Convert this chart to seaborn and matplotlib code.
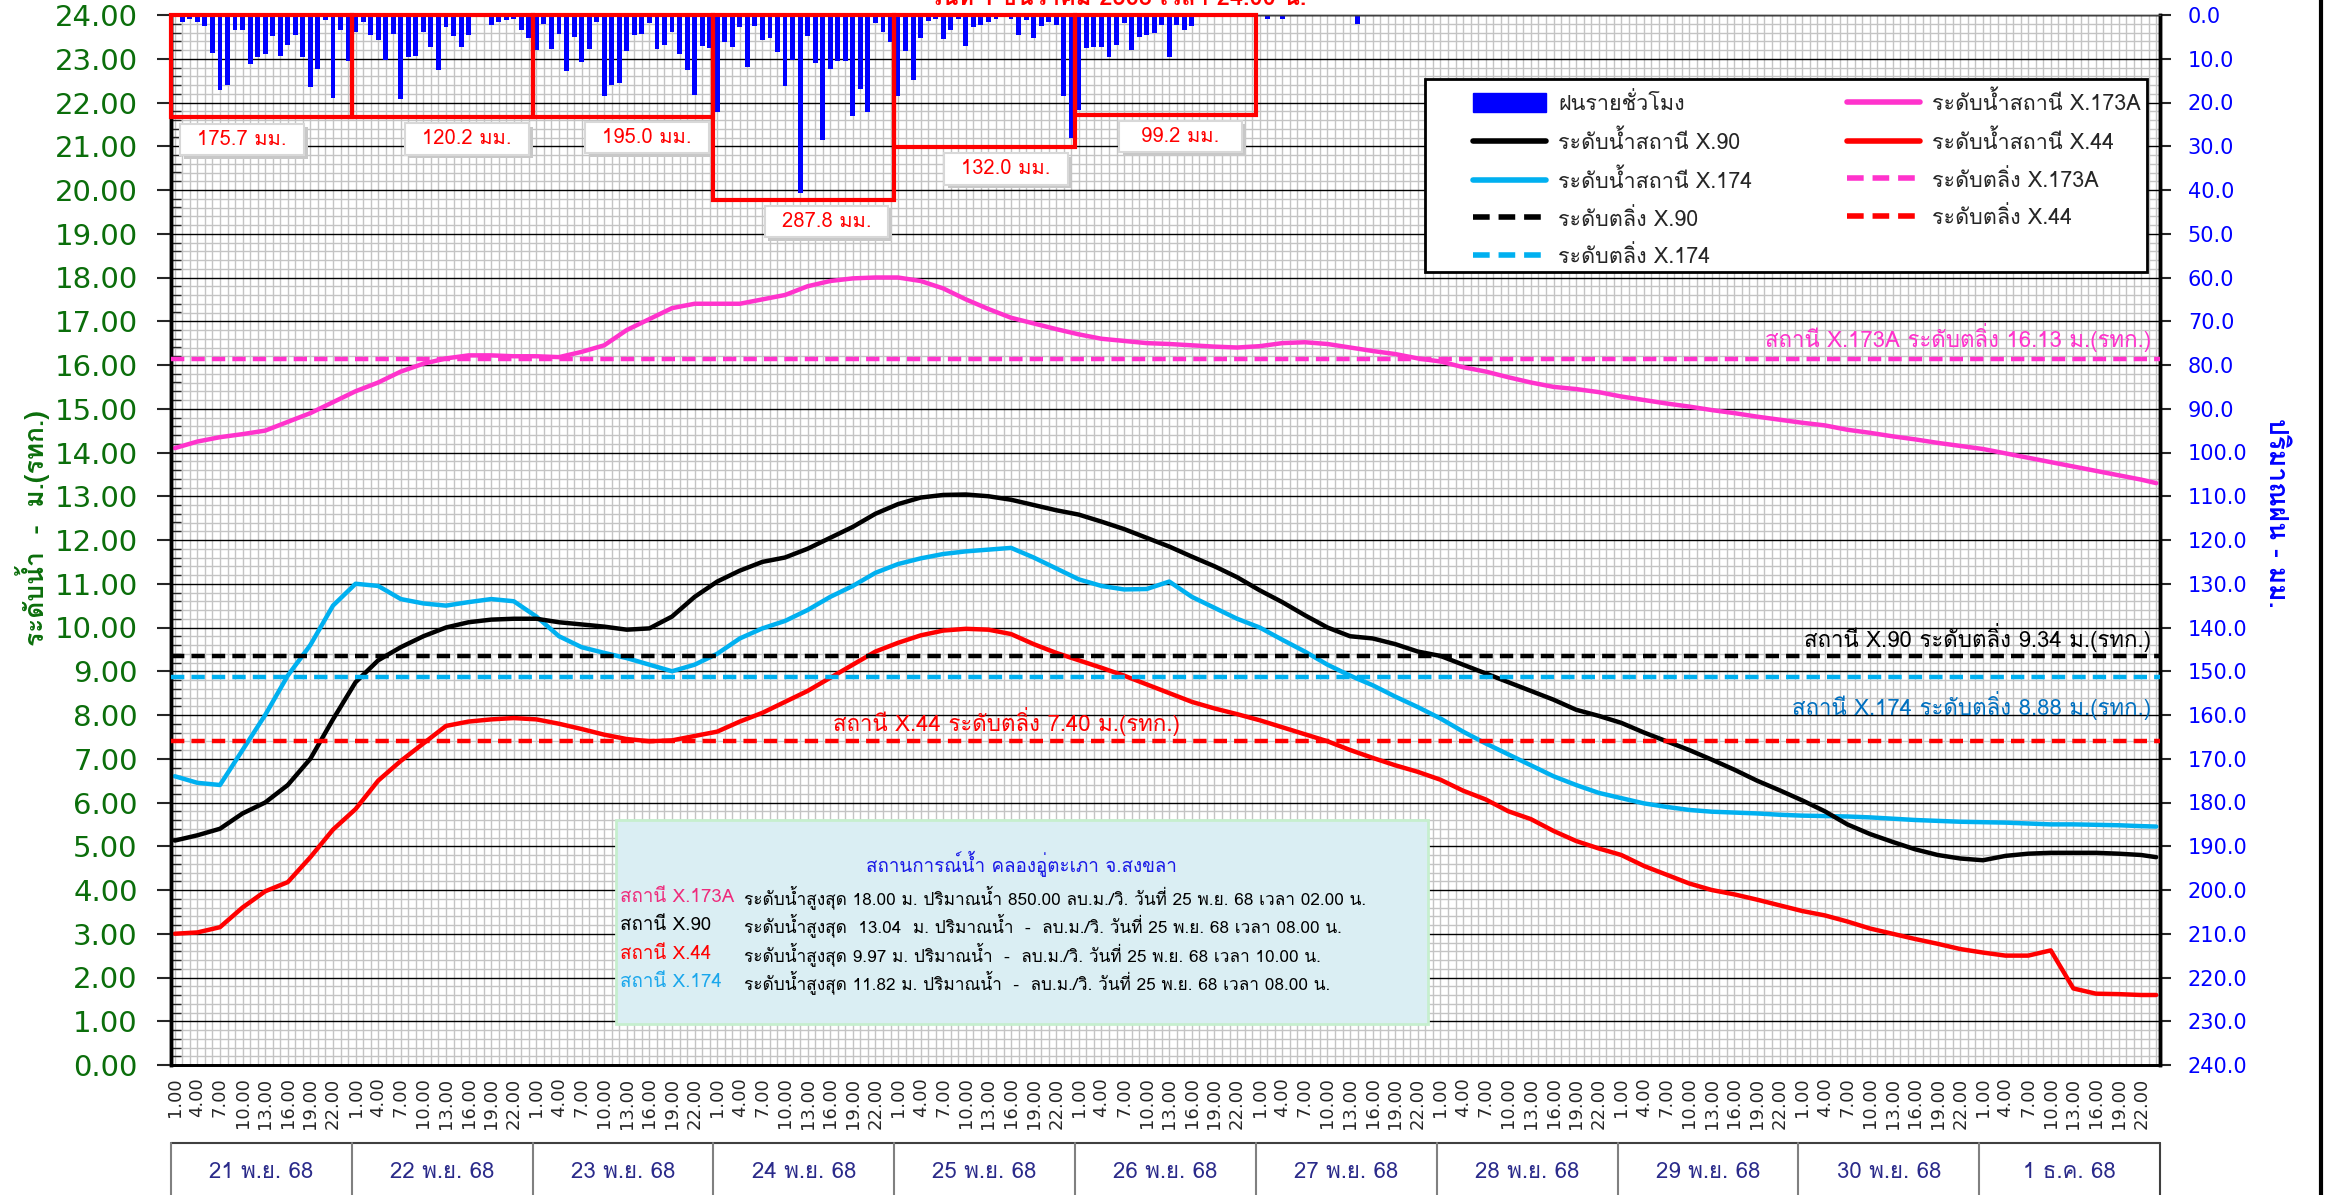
import matplotlib
matplotlib.use("Agg")
import matplotlib.pyplot as plt
import seaborn as sns
from matplotlib import font_manager, ft2font
from matplotlib.patches import Rectangle, Patch
from matplotlib.lines import Line2D
from matplotlib.ticker import MultipleLocator, FixedLocator, FormatStrFormatter

# ---------------- data ----------------
day_labels = ['21 พ.ย. 68', '22 พ.ย. 68', '23 พ.ย. 68', '24 พ.ย. 68', '25 พ.ย. 68',
              '26 พ.ย. 68', '27 พ.ย. 68', '28 พ.ย. 68', '29 พ.ย. 68', '30 พ.ย. 68', '1 ธ.ค. 68']
hour_labels = ['1.00', '4.00', '7.00', '10.00', '13.00', '16.00', '19.00', '22.00']

# hourly rain (mm), one list per day, 1.00 .. 24.00
rain_21 = [0.5, 1.5, 0.8, 1.7, 2.6, 8.6, 17.1, 16.0, 3.5, 3.4, 11.3, 9.5,
           8.8, 4.9, 9.4, 6.8, 4.5, 9.6, 16.4, 12.3, 1.1, 18.9, 3.4, 10.5]
rain_22 = [3.8, 1.7, 4.5, 5.8, 10.2, 4.4, 19.2, 9.6, 9.4, 3.8, 7.3, 12.6,
           2.8, 4.7, 7.3, 4.5, 0.0, 0.3, 2.3, 1.5, 1.1, 1.0, 3.4, 5.3]
rain_23 = [7.9, 2.0, 7.7, 4.3, 12.8, 5.0, 10.7, 7.7, 1.7, 18.6, 15.9, 15.6,
           8.3, 4.5, 4.4, 1.9, 7.7, 6.8, 3.8, 8.9, 12.6, 18.3, 7.1, 7.5]
rain_24 = [22.2, 6.2, 7.3, 2.8, 11.9, 2.6, 5.8, 5.3, 8.5, 16.2, 10.3, 40.6,
           4.9, 10.9, 28.6, 12.4, 10.5, 10.5, 23.1, 16.8, 22.2, 1.9, 3.8, 6.2]
rain_25 = [18.6, 8.3, 14.9, 5.3, 1.3, 0.8, 5.5, 3.4, 1.0, 7.0, 2.8, 2.3,
           1.7, 0.8, 0.5, 0.8, 4.5, 1.1, 5.3, 2.5, 1.7, 2.3, 18.4, 28.2]
rain_26 = [21.8, 7.5, 7.3, 7.3, 9.6, 6.8, 1.9, 8.0, 5.0, 4.5, 4.1, 2.3,
           9.6, 2.3, 3.4, 2.4, 0.5, 0, 0, 0, 0, 0, 0, 0]
rain_27 = [0, 1.0, 0, 1.0, 0, 0, 0, 0, 0, 0, 0, 0,
           0, 2.0, 0, 0, 0, 0, 0, 0, 0, 0, 0, 0]
rain_dry = [0] * 24
rain = rain_21 + rain_22 + rain_23 + rain_24 + rain_25 + rain_26 + rain_27 + rain_dry * 4
rain_hours = list(range(len(rain)))

# daily rain totals and the height of their red boxes (m, left axis)
rain_totals = ['175.7 มม.', '120.2 มม.', '195.0 มม.', '287.8 มม.', '132.0 มม.', '99.2 มม.']
box_bottoms = [21.68, 21.68, 21.66, 19.76, 20.98, 21.72]

# water level readings every 3 hours (hour index from 21 พ.ย. 1.00)
level_hours = list(range(0, 262, 3)) + [263]
x173a = [14.1, 14.25, 14.35, 14.42, 14.5, 14.7, 14.9, 15.15, 15.4, 15.6, 15.85, 16.03,
         16.15, 16.22, 16.22, 16.2, 16.2, 16.18, 16.3, 16.45, 16.8, 17.05, 17.3, 17.4,
         17.4, 17.4, 17.5, 17.6, 17.8, 17.92, 17.98, 18.0, 18.0, 17.92, 17.75, 17.5,
         17.28, 17.08, 16.95, 16.82, 16.7, 16.6, 16.55, 16.5, 16.48, 16.45, 16.42, 16.4,
         16.43, 16.5, 16.52, 16.48, 16.4, 16.32, 16.25, 16.15, 16.08, 15.95, 15.85, 15.72,
         15.6, 15.5, 15.45, 15.38, 15.28, 15.2, 15.12, 15.05, 14.97, 14.9, 14.82, 14.75,
         14.68, 14.62, 14.52, 14.45, 14.37, 14.3, 14.22, 14.15, 14.08, 13.98, 13.88, 13.78,
         13.68, 13.58, 13.48, 13.38, 13.3]
x90 = [5.13, 5.25, 5.4, 5.75, 6.0, 6.4, 7.0, 7.9, 8.75, 9.25, 9.55, 9.8,
       10.0, 10.12, 10.18, 10.2, 10.2, 10.12, 10.07, 10.02, 9.95, 9.98, 10.25, 10.7,
       11.05, 11.3, 11.5, 11.6, 11.8, 12.05, 12.3, 12.6, 12.82, 12.97, 13.03, 13.04,
       13.0, 12.92, 12.8, 12.68, 12.58, 12.42, 12.25, 12.05, 11.85, 11.62, 11.4, 11.15,
       10.85, 10.58, 10.28, 10.0, 9.8, 9.75, 9.62, 9.45, 9.35, 9.15, 8.95, 8.75,
       8.55, 8.35, 8.12, 7.98, 7.82, 7.6, 7.4, 7.2, 6.98, 6.75, 6.5, 6.28,
       6.05, 5.8, 5.5, 5.28, 5.1, 4.93, 4.8, 4.72, 4.68, 4.78, 4.83, 4.85,
       4.85, 4.85, 4.83, 4.8, 4.75]
x174 = [6.6, 6.45, 6.4, 7.2, 8.0, 8.9, 9.6, 10.5, 11.0, 10.95, 10.65, 10.55,
        10.5, 10.58, 10.65, 10.6, 10.25, 9.8, 9.55, 9.42, 9.3, 9.15, 9.0, 9.15,
        9.4, 9.75, 9.98, 10.15, 10.4, 10.7, 10.95, 11.25, 11.45, 11.58, 11.68, 11.74,
        11.78, 11.82, 11.6, 11.35, 11.1, 10.95, 10.87, 10.88, 11.05, 10.7, 10.45, 10.2,
        10.0, 9.72, 9.45, 9.15, 8.9, 8.68, 8.42, 8.18, 7.92, 7.62, 7.35, 7.1,
        6.85, 6.6, 6.4, 6.22, 6.1, 5.98, 5.9, 5.83, 5.79, 5.77, 5.75, 5.72,
        5.7, 5.69, 5.68, 5.66, 5.63, 5.6, 5.58, 5.56, 5.55, 5.54, 5.52, 5.5,
        5.5, 5.49, 5.48, 5.46, 5.45]
x44 = [3.0, 3.03, 3.15, 3.6, 3.97, 4.18, 4.75, 5.38, 5.85, 6.5, 6.95, 7.35,
       7.75, 7.85, 7.9, 7.93, 7.9, 7.8, 7.68, 7.55, 7.45, 7.4, 7.42, 7.52,
       7.62, 7.85, 8.05, 8.3, 8.55, 8.85, 9.15, 9.45, 9.65, 9.82, 9.93, 9.97,
       9.95, 9.85, 9.62, 9.42, 9.25, 9.08, 8.9, 8.7, 8.5, 8.3, 8.15, 8.02,
       7.88, 7.72, 7.56, 7.4, 7.2, 7.02, 6.85, 6.7, 6.52, 6.27, 6.07, 5.8,
       5.62, 5.35, 5.12, 4.95, 4.8, 4.55, 4.35, 4.15, 4.0, 3.9, 3.78, 3.65,
       3.52, 3.42, 3.28, 3.12, 3.0, 2.88, 2.77, 2.65, 2.57, 2.5, 2.5, 2.62,
       1.75, 1.63, 1.62, 1.6, 1.6]

bank_173a, bank_90, bank_174, bank_44 = 16.13, 9.34, 8.88, 7.40

# ---------------- fonts ----------------
def find_thai_font():
    for f in font_manager.fontManager.ttflist:
        try:
            if 0x0E01 in ft2font.FT2Font(f.fname).get_charmap():
                return f.name
        except Exception:
            continue
    return None

sns.set_style('white')
thai = find_thai_font()
plt.rcParams['font.family'] = [thai, 'DejaVu Sans'] if thai else ['DejaVu Sans']

c173 = '#FF33CC'
c174 = '#00B0F0'
c90 = 'black'
c44 = '#FF0000'
rain_c = '#0000FF'
dash = (0, (3.0, 1.6))

fig = plt.figure(figsize=(23.33, 11.95), dpi=100)
L, B, W, H = 171 / 2333, 130 / 1195, 1989 / 2333, 1050 / 1195
ax = fig.add_axes([L, B, W, H])      # rain, grid, x axis
axl = ax.twinx()                     # water levels on the left
ax.yaxis.tick_right()
ax.yaxis.set_label_position('right')
axl.yaxis.tick_left()
axl.yaxis.set_label_position('left')

# ---------------- rain bars ----------------
sns.barplot(x=rain_hours, y=rain, ax=ax, color=rain_c, saturation=1, width=0.65,
            native_scale=True, errorbar=None, linewidth=0)
ax.set_xlim(-0.5, len(rain) - 0.5)
ax.set_ylim(240, 0)
ax.set_xlabel('')
ax.set_ylabel('')

ax.set_axisbelow(True)
ax.xaxis.set_major_locator(FixedLocator(range(0, len(rain), 3)))
ax.set_xticklabels(hour_labels * len(day_labels), rotation=90)
ax.xaxis.set_minor_locator(MultipleLocator(1))
ax.yaxis.set_major_locator(MultipleLocator(10))
ax.yaxis.set_minor_locator(MultipleLocator(2))
ax.yaxis.set_major_formatter(FormatStrFormatter('%.1f'))
ax.grid(True, which='minor', axis='both', color='#C4C4C4', lw=1.0)
ax.grid(True, which='major', axis='x', color='#C4C4C4', lw=1.0)
ax.grid(True, which='major', axis='y', color='black', lw=1.0)
ax.tick_params(axis='x', which='both', direction='out', length=7, width=1,
               labelsize=13, pad=2, labelfontfamily='DejaVu Sans')
ax.tick_params(axis='y', which='major', direction='out', length=8, width=1.5,
               labelsize=15, labelcolor='#0000FF', pad=12,
               labelfontfamily=['Liberation Sans Narrow', 'DejaVu Sans'])
ax.tick_params(axis='y', which='minor', length=0)

# ---------------- water levels ----------------
for vals, col in [(x173a, c173), (x44, c44), (x174, c174), (x90, c90)]:
    sns.lineplot(x=level_hours, y=vals, ax=axl, color=col, linewidth=3.2, legend=False)
for lvl, col in [(bank_173a, c173), (bank_90, c90), (bank_174, c174), (bank_44, c44)]:
    axl.axhline(lvl, color=col, lw=3.2, ls=dash, zorder=3)

axl.set_ylim(0, 24)
axl.set_xlim(-0.5, len(rain) - 0.5)
axl.set_xlabel('')
axl.set_ylabel('')
axl.yaxis.set_major_locator(MultipleLocator(1))
axl.yaxis.set_minor_locator(MultipleLocator(0.2))
axl.yaxis.set_major_formatter(FormatStrFormatter('%.2f'))
axl.tick_params(axis='y', which='major', direction='out', length=10, width=1.5,
                labelsize=21, labelcolor='#0B6E0B', pad=14, labelfontfamily='DejaVu Sans')
axl.tick_params(axis='y', which='minor', direction='in', length=7, width=1)

for a in (ax, axl):
    a.spines['left'].set_linewidth(2.5)
    a.spines['right'].set_linewidth(2.5)
    a.spines['bottom'].set_linewidth(2)
    a.spines['top'].set_linewidth(1)
    a.spines['top'].set_color('#404040')
    for s in ('left', 'right', 'bottom'):
        a.spines[s].set_color('black')

# bank level labels
axl.text(262.3, 16.3, 'สถานี X.173A ระดับตลิ่ง 16.13 ม.(รทก.)', color=c173, fontsize=16,
         ha='right', va='bottom', zorder=4)
axl.text(262.3, 9.45, 'สถานี X.90 ระดับตลิ่ง 9.34 ม.(รทก.)', color='black', fontsize=16,
         ha='right', va='bottom', zorder=4)
axl.text(262.3, 8.55, 'สถานี X.174 ระดับตลิ่ง 8.88 ม.(รทก.)', color='#0070C0', fontsize=16,
         ha='right', va='top', zorder=4)
axl.text(110.4, 7.52, 'สถานี X.44 ระดับตลิ่ง 7.40 ม.(รทก.)', color=c44, fontsize=16,
         ha='center', va='bottom', zorder=4)

# daily rain boxes and totals
label_pos = [(8.95, 21.15), (38.8, 21.17), (62.7, 21.2), (86.5, 19.28), (110.3, 20.48), (133.5, 21.22)]
for d, (bottom, total) in enumerate(zip(box_bottoms, rain_totals)):
    axl.add_patch(Rectangle((d * 24 - 0.5, bottom), 24, 24 - bottom, fill=False,
                            ec='#FF0000', lw=3, zorder=5, clip_on=False))
    cx, cy = label_pos[d]
    axl.add_patch(Rectangle((cx - 8.2 + 0.5, cy - 0.36 - 0.08), 16.4, 0.72,
                            fc='#C8C8C8', ec='none', zorder=5))
    axl.add_patch(Rectangle((cx - 8.2, cy - 0.36), 16.4, 0.72,
                            fc='white', ec='#D8D8D8', lw=1.5, zorder=5))
    axl.text(cx, cy, total, color='#FF0000', fontsize=14.5, ha='center', va='center', zorder=6)

# info box
axl.add_patch(Rectangle((58.5, 0.94), 107.9, 4.66, fc='#DAEEF3', ec='#C6EFCE', lw=2, zorder=6))
axl.text(112.4, 4.59, 'สถานการณ์น้ำ คลองอู่ตะเภา จ.สงขลา', color='#1A1AE6', fontsize=13.5,
         ha='center', va='center', zorder=7)
info_rows = [
    ('สถานี X.173A', '#EE2C7C', 'ระดับน้ำสูงสุด 18.00 ม. ปริมาณน้ำ 850.00 ลบ.ม./วิ. วันที่ 25 พ.ย. 68 เวลา 02.00 น.'),
    ('สถานี X.90', 'black', 'ระดับน้ำสูงสุด  13.04  ม. ปริมาณน้ำ  -  ลบ.ม./วิ. วันที่ 25 พ.ย. 68 เวลา 08.00 น.'),
    ('สถานี X.44', '#FF0000', 'ระดับน้ำสูงสุด 9.97 ม. ปริมาณน้ำ  -  ลบ.ม./วิ. วันที่ 25 พ.ย. 68 เวลา 10.00 น.'),
    ('สถานี X.174', '#1AA7EC', 'ระดับน้ำสูงสุด 11.82 ม. ปริมาณน้ำ  -  ลบ.ม./วิ. วันที่ 25 พ.ย. 68 เวลา 08.00 น.'),
]
for i, (name, col, detail) in enumerate(info_rows):
    y = 3.84 - i * 0.647
    axl.text(59.1, y, name, color=col, fontsize=13.5, ha='left', va='center', zorder=7)
    axl.text(75.5, y, detail, color='black', fontsize=12.4, ha='left', va='center', zorder=7)

# legend (frame drawn separately so the entries can sit where the reference has them)
axl.add_patch(Rectangle((0.6305, 0.755), 0.363, 0.184, transform=axl.transAxes,
                        fc='white', ec='black', lw=2, zorder=9))
handles = [
    Patch(color=rain_c, label='ฝนรายชั่วโมง'),
    Line2D([], [], color=c90, lw=4, label='ระดับน้ำสถานี X.90'),
    Line2D([], [], color=c174, lw=4, label='ระดับน้ำสถานี X.174'),
    Line2D([], [], color=c90, lw=4, ls=dash, label='ระดับตลิ่ง X.90'),
    Line2D([], [], color=c174, lw=4, ls=dash, label='ระดับตลิ่ง X.174'),
    Line2D([], [], color=c173, lw=4, label='ระดับน้ำสถานี X.173A'),
    Line2D([], [], color=c44, lw=4, label='ระดับน้ำสถานี X.44'),
    Line2D([], [], color=c173, lw=4, ls=dash, label='ระดับตลิ่ง X.173A'),
    Line2D([], [], color=c44, lw=4, ls=dash, label='ระดับตลิ่ง X.44'),
]
leg = axl.legend(handles=handles, ncol=2, loc='upper left',
                 bbox_to_anchor=(0.6546, 0.927), fontsize=15.5, frameon=False,
                 handlelength=3.4, handleheight=1.0, labelspacing=0.72, borderpad=0,
                 handletextpad=0.55, columnspacing=4.4, borderaxespad=0)
leg.set_zorder(10)

# axis titles
fig.text(33 / 2333, 1 - 528 / 1195, 'ระดับน้ำ  -  ม.(รทก.)', rotation=90, color='#0B6E0B',
         fontsize=19, fontweight='bold', ha='center', va='center')
fig.text(2276 / 2333, 1 - 513 / 1195, 'ปริมาณฝน - มม.', rotation=-90, color='#0000FF',
         fontsize=19, fontweight='bold', ha='center', va='center')

# title (cut off at the top edge)
fig.text(929 / 2333, 1 - 5 / 1195, 'วันที่ 1 ธันวาคม 2568 เวลา 24.00 น.', color='#FF0000',
         fontsize=17, fontweight='bold', ha='left', va='baseline')

# date row
axd = fig.add_axes([L, 0, W, 52 / 1195])
axd.set_xlim(-0.5, len(rain) - 0.5)
axd.set_ylim(0, 1)
axd.axis('off')
axd.axhline(1, color='#404040', lw=1.5, clip_on=False)
for d, lab in enumerate(day_labels):
    axd.axvline(d * 24 - 0.5, color='#808080', lw=1.5, clip_on=False)
    axd.text(d * 24 + 11.5, 0.44, lab, color='#2A2A8A', fontsize=16, ha='center', va='center')
axd.axvline(len(day_labels) * 24 - 0.5, color='#404040', lw=1.5, clip_on=False)

fig.add_artist(Line2D([2321 / 2333] * 2, [0, 1], color='black', lw=3, transform=fig.transFigure))

fig.savefig('out.png', dpi=100)
